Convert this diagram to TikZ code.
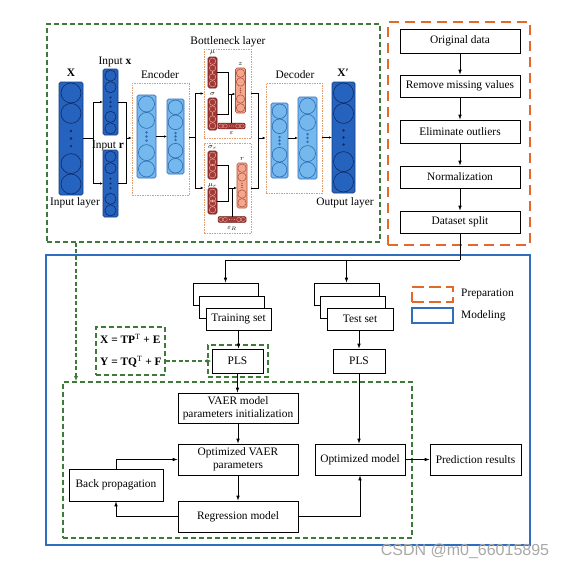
\documentclass[tikz,border=0pt]{standalone}
\usepackage{fontspec}
\setmainfont{Liberation Serif}
\newfontfamily\wmfont{Liberation Sans}
\usetikzlibrary{arrows.meta,fit,calc}
\definecolor{gdash}{HTML}{3F7A3A}
\definecolor{orng}{HTML}{E2692A}
\definecolor{bluem}{HTML}{2F6DBE}
\definecolor{nnDark}{HTML}{2563BE}
\definecolor{nnDarkB}{HTML}{163C84}
\definecolor{nnDarkC}{HTML}{0E2A66}
\definecolor{nnLight}{HTML}{74B8EE}
\definecolor{nnLightB}{HTML}{2E6CB4}
\definecolor{nnRed}{HTML}{A33A36}
\definecolor{nnRedB}{HTML}{6A1A1A}
\definecolor{nnRedC}{HTML}{F2B7A8}
\definecolor{nnSal}{HTML}{F3A88E}
\definecolor{nnSalB}{HTML}{B04E3C}
\definecolor{encO}{HTML}{E69A6A}
\definecolor{wmgray}{HTML}{A8A8A8}

\tikzset{
 txt/.style={font=\fontsize{11.4}{13}\selectfont},
 pbox/.style={draw=black, line width=0.7pt, fill=white, inner sep=0pt, txt, align=center},
 arr/.style={line width=0.7pt, -{Latex[length=5pt,width=3.6pt]}},
 ln/.style={line width=0.7pt},
 gframe/.style={draw=gdash, line width=1.6pt, dash pattern=on 5pt off 3pt, inner sep=0pt},
 gline/.style={draw=gdash, line width=1.4pt, dash pattern=on 4pt off 2.5pt},
 garr/.style={gline, -{Latex[length=5pt,width=4pt]}},
 oframe/.style={draw=orng, line width=1.8pt, dash pattern=on 10pt off 6pt, inner sep=0pt},
 bframe/.style={draw=bluem, line width=1.8pt, inner sep=0pt},
 eframe/.style={draw=encO, line width=0.6pt, dash pattern=on 1.5pt off 1pt, inner sep=0pt},
 small/.style={font=\fontsize{7}{7}\selectfont, inner sep=0pt},
 nnarr/.style={line width=0.6pt, -{Latex[length=3pt,width=2.5pt]}},
 nnln/.style={line width=0.6pt},
}

% box from corners: [style] name x1 y1 x2 y2 text
\newcommand\pbx[7][]{%
  \pgfmathsetmacro\bxw{#5-#3}\pgfmathsetmacro\bxh{#6-#4}%
  \pgfmathsetmacro\bxx{(#3+#5)/2}\pgfmathsetmacro\bxy{(#4+#6)/2}%
  \node[pbox, minimum width=\bxw pt, minimum height=\bxh pt, #1] (#2) at (\bxx,\bxy) {#7};%
}

\newcommand\nncol[9]{%
  \node[draw=#8, fill=#7, rounded corners=1.5pt, line width=0.6pt, minimum width=#4pt, minimum height=#5pt, inner sep=0pt, outer sep=0pt] (#1) at (#2,#3) {};%
  \pgfmathsetmacro\nnA{#3-#5/2+1+#6}%
  \pgfmathsetmacro\nnB{\nnA+2*#6+0.4}%
  \pgfmathsetmacro\nnD{#3+#5/2-1-#6}%
  \pgfmathsetmacro\nnC{\nnD-2*#6-0.4}%
  \pgfmathsetmacro\nnS{(\nnC-\nnB-2*#6)/4}%
  \pgfmathsetmacro\nnR{min(1.3,#6/5)}%
  \pgfmathsetmacro\nnW{min(0.6,#6/8)}%
  \foreach \yy in {\nnA,\nnB,\nnC,\nnD}{\draw[draw=#9, line width={\nnW*1pt}] (#2,\yy) circle[radius={#6*1pt}];}%
  \foreach \k in {-1,0,1}{\fill[#9] (#2,{#3+\k*\nnS}) circle[radius={\nnR*1pt}];}%
}
\newcommand\nnrow[9]{%
  \node[draw=#8, fill=#7, rounded corners=1pt, line width=0.5pt, minimum width=#4pt, minimum height=#5pt, inner sep=0pt, outer sep=0pt] (#1) at (#2,#3) {};%
  \pgfmathsetmacro\nnA{#2-#4/2+0.7+#6}%
  \pgfmathsetmacro\nnB{\nnA+2*#6+0.2}%
  \pgfmathsetmacro\nnD{#2+#4/2-0.7-#6}%
  \pgfmathsetmacro\nnC{\nnD-2*#6-0.2}%
  \pgfmathsetmacro\nnS{(\nnC-\nnB-2*#6)/4}%
  \foreach \xx in {\nnA,\nnB,\nnC,\nnD}{\draw[draw=#9, line width=0.3pt] (\xx,#3) circle[radius={#6*1pt}];}%
  \foreach \k in {-1,0,1}{\fill[#9] ({#2+\k*\nnS},#3) circle[radius=0.45pt];}%
}

\begin{document}
\begin{tikzpicture}[x=1pt,y=-1pt]
\useasboundingbox (0,0) rectangle (568,570);

% ---------- frames ----------
\node[bframe, fit={(46,255) (530,545)}] (model) {};
\node[gframe, fit={(47,24) (380,242)}] (gtop) {};
\node[oframe, fit={(388,22) (530,245)}] (prep) {};
\node[gframe, fit={(63,382) (412,538)}] (ginner) {};
\node[gframe, fit={(96,327) (165,375)}] (geq) {};
\node[gframe, fit={(208,345) (268,377)}] (gpls) {};

% ---------- preparation ----------
\pbx{od}{400}{29}{520}{53}{Original data}
\pbx{rm}{400}{75}{520}{97}{Remove missing values}
\pbx{eo}{400}{120}{520}{143}{Eliminate outliers}
\pbx{no}{400}{166}{520}{188}{Normalization}
\pbx{ds}{400}{211}{520}{233}{Dataset split}
\draw[arr] (od) -- (rm);
\draw[arr] (rm) -- (eo);
\draw[arr] (eo) -- (no);
\draw[arr] (no) -- (ds);

% ---------- modeling ----------
\pbx{tr1}{193}{283}{258}{305}{}
\pbx{tr2}{199}{296}{264}{318}{}
\pbx{tr3}{206}{308}{271}{330}{Training set}
\pbx{te1}{314}{283}{379}{305}{}
\pbx{te2}{320}{296}{385}{318}{}
\pbx{te3}{327}{308}{393}{330}{Test set}
\coordinate (split) at (460,260);
\draw[ln] (ds.south) -- (split);
\draw[arr] (split) -| (tr1.north);
\draw[arr] (split) -| (te1.north);

\pbx{pls1}{212}{349}{263}{373}{PLS}
\pbx{pls2}{333}{349}{385}{373}{PLS}
\draw[arr] (tr3.south) -- (tr3.south |- pls1.north);
\draw[arr] (te3.south -| pls2.north) -- (pls2.north);

\node[txt, anchor=west, inner sep=0pt] (eq1) at (100,339) {\textbf{X = TP}\textsuperscript{T} \textbf{+ E}};
\node[txt, anchor=west, inner sep=0pt] (eq2) at (100,362) {\textbf{Y = TQ}\textsuperscript{T} \textbf{+ F}};
\draw[garr] (geq.east |- pls1.west) -- (pls1.west);

\pbx{init}{178}{393}{298}{423}{VAER model\\parameters initialization}
\pbx{opt}{178}{444}{298}{475}{Optimized VAER\\parameters}
\pbx{reg}{178}{501}{298}{532}{Regression model}
\pbx{bp}{69}{469}{163}{501}{Back propagation}
\pbx{om}{315}{444}{405}{475}{Optimized model}
\pbx{pr}{430}{444}{521}{475}{Prediction results}

\draw[arr] (pls1.south) -- (pls1.south |- init.north);
\draw[arr] (init) -- (opt);
\draw[arr] (opt) -- (reg);
\draw[arr] (reg.west) -| (bp.south);
\draw[arr] (bp.north) |- (opt.west);
\draw[arr] (reg.east) -| (om.south);
\draw[arr] (pls2.south) -- (pls2.south |- om.north);
\draw[arr] (om) -- (pr);

\coordinate (gx) at (76,0);
\draw[garr] (gtop.south -| gx) -- (ginner.north -| gx);

% legend
\node[oframe, dash pattern=on 12pt off 5pt, fit={(412,287) (453,302)}] (lg1) {};
\node[bframe, fit={(412,308) (453,323)}] (lg2) {};
\node[txt, anchor=west, inner sep=0pt] (lgt1) at (461,294) {Preparation};
\node[txt, anchor=west, inner sep=0pt] (lgt2) at (461,316) {Modeling};

% ---------- network ----------
\nncol{X}{71}{138.5}{24}{113}{10}{nnDark}{nnDarkB}{nnDarkC}
\nncol{inx}{110.5}{102}{15}{66}{5.6}{nnDark}{nnDarkB}{nnDarkC}
\nncol{inr}{110.5}{183.5}{15}{67}{5.6}{nnDark}{nnDarkB}{nnDarkC}

\node[eframe, fit={(132,83) (189,195)}] (enc) {};
\nncol{ea}{146.5}{136.5}{19}{83}{8}{nnLight}{nnLightB}{nnLightB}
\nncol{eb}{175.5}{136.5}{17}{75}{7.3}{nnLight}{nnLightB}{nnLightB}

\node[eframe, fit={(204,49) (251,138)}] (bn1) {};
\node[eframe, fit={(204,143) (251,233)}] (bn2) {};
\nncol{mu}{212.5}{72.5}{9}{31}{3.2}{nnRed}{nnRedB}{nnRedC}
\nncol{sg}{212.5}{114}{9}{32}{3.2}{nnRed}{nnRedB}{nnRedC}
\nncol{zz}{240.5}{90.5}{10}{45}{4.2}{nnSal}{nnSalB}{nnSalB}
\nnrow{eps}{231.5}{126}{27}{5.6}{2.1}{nnRed}{nnRedB}{nnRedC}
\nncol{sgr}{212.5}{165}{9}{28}{3.2}{nnRed}{nnRedB}{nnRedC}
\nncol{mur}{212.5}{201}{9}{26}{3.2}{nnRed}{nnRedB}{nnRedC}
\nncol{rr}{242}{185.5}{10}{45}{4.2}{nnSal}{nnSalB}{nnSalB}
\nnrow{epsr}{232}{219.5}{28}{5.6}{2.1}{nnRed}{nnRedB}{nnRedC}

\node[eframe, fit={(266,83) (322,193)}] (dec) {};
\nncol{da}{279.5}{140.5}{17}{75}{7.3}{nnLight}{nnLightB}{nnLightB}
\nncol{db}{307.5}{138}{19}{82}{8}{nnLight}{nnLightB}{nnLightB}
\nncol{Xp}{343.5}{137.5}{23}{111}{10}{nnDark}{nnDarkB}{nnDarkC}

% network labels
\node[txt] (lX) at (71,73) {\textbf{X}};
\node[txt] (linx) at (115,62) {Input \textbf{x}};
\node[txt] (linr) at (108,146) {Input \textbf{r}};
\node[txt] (lil) at (75,203) {Input layer};
\node[txt] (lenc) at (160,75) {Encoder};
\node[txt] (lbn) at (228,42) {Bottleneck layer};
\node[txt] (ldec) at (295,75) {Decoder};
\node[txt] (lXp) at (343,73) {\textbf{X′}};
\node[txt] (lol) at (345,203) {Output layer};
\node[small] (lmu) at (212.5,53) {$\mu$};
\node[small] (lsg) at (212.5,94) {$\sigma$};
\node[small] (lz) at (240.5,64) {$z$};
\node[small] (leps) at (231.5,133) {$\varepsilon$};
\node[small] (lsgr) at (212.5,147) {$\sigma_r$};
\node[small] (lmur) at (212.5,186) {$\mu_r$};
\node[small] (lr) at (242,159) {$r$};
\node[small] (lepsr) at (232,228) {$\varepsilon_R$};

% network connectors
\coordinate (s1) at (93,138);
\draw[nnln] (X.east |- s1) -- (s1);
\draw[nnarr] (s1) |- (inx.west);
\draw[nnarr] (s1) |- (inr.west);
\coordinate (s2) at (126,138);
\draw[nnln] (inx.east) -| (s2);
\draw[nnln] (inr.east) -| (s2);
\draw[nnarr] (s2) -- (s2 -| enc.west);
\draw[nnarr] (ea.east |- eb.west) -- (eb.west);
\coordinate (s3) at (195,137);
\draw[nnln] (s3 -| enc.east) -- (s3);
\draw[nnarr] (s3) |- (bn1.west);
\draw[nnarr] (s3) |- (bn2.west);
% top bottleneck
\coordinate (j1) at (228,94);
\draw[nnln] (mu.east) -| (j1);
\draw[nnln] (sg.east) -| (j1);
\draw[nnln] (eps.north) -- (eps.north |- j1) -- (j1);
\draw[nnarr] (j1) -- (j1 -| zz.west);
% bottom bottleneck
\coordinate (j2) at (228,188);
\draw[nnln] (sgr.east) -| (j2);
\draw[nnln] (mur.east) -| (j2);
\draw[nnln] (epsr.north) -- (epsr.north |- j2) -- (j2);
\draw[nnarr] (j2) -- (j2 -| rr.west);
% to decoder
\coordinate (s4) at (258,138);
\draw[nnln] (bn1.east) -| (s4);
\draw[nnln] (bn2.east) -| (s4);
\draw[nnarr] (s4) -- (s4 -| dec.west);
\draw[nnarr] (da.east |- db.west) -- (db.west);
\draw[nnarr] (dec.east |- Xp.west) -- (Xp.west);

% watermark
\node[font=\wmfont\fontsize{16}{16}\selectfont, text=wmgray, inner sep=0pt] (wm) at (465,551) {CSDN @m0\_66015895};
\end{tikzpicture}
\end{document}
